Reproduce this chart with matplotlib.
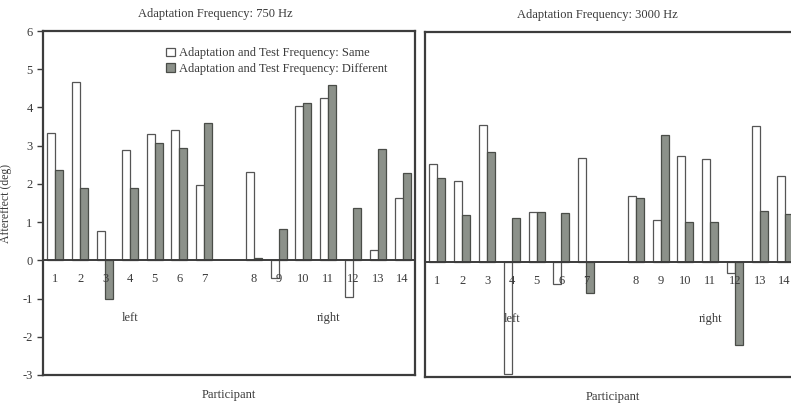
import matplotlib.pyplot as plt
import numpy as np

plt.rcParams['font.family'] = ['Liberation Serif', 'DejaVu Serif']
plt.rcParams['axes.unicode_minus'] = False

participants = [str(i) for i in range(1, 15)]
# 750 Hz panel
same_750 = [3.32, 4.67, 0.77, 2.90, 3.31, 3.40, 1.98, 2.30, -0.45, 4.03, 4.26, -0.97, 0.28, 1.64]
diff_750 = [2.36, 1.88, -1.00, 1.90, 3.08, 2.94, 3.59, 0.07, 0.82, 4.11, 4.59, 1.37, 2.91, 2.29]
# 3000 Hz panel
same_3000 = [2.56, 2.10, 3.58, -2.92, 1.30, -0.58, 2.70, 1.71, 1.10, 2.76, 2.68, -0.28, 3.54, 2.24]
diff_3000 = [2.19, 1.22, 2.87, 1.15, 1.29, 1.27, -0.80, 1.68, 3.30, 1.03, 1.04, -2.16, 1.32, 1.25]

titles = ['Adaptation Frequency: 750 Hz', 'Adaptation Frequency: 3000 Hz']
labels = ['Adaptation and Test Frequency: Same', 'Adaptation and Test Frequency: Different']

txt = '#3a3a3a'
frame = '#3c3c3c'
gray = '#8c918a'

# positions 1..7, one empty slot, then 8..14
pos = np.array(list(range(7)) + list(range(8, 15)))
w = 0.32

fig = plt.figure(figsize=(7.91, 4.08), dpi=100)
ax1 = fig.add_axes([0.0544, 0.0809, 0.4703, 0.843])
ax2 = fig.add_axes([0.5373, 0.076, 0.4703, 0.846])


def panel(ax, same, diff, title, ticks):
    b1 = ax.bar(pos - w / 2, same, w, color='white', edgecolor='#555555', linewidth=0.9, label=labels[0])
    b2 = ax.bar(pos + w / 2, diff, w, color=gray, edgecolor='#4a4d48', linewidth=0.9, label=labels[1])
    ax.axhline(0, color=frame, linewidth=1.4)
    ax.set_xlim(-0.5, 14.5)
    ax.set_ylim(-3, 6)
    ax.set_xticks([])
    for s in ax.spines.values():
        s.set_color(frame)
        s.set_linewidth(1.6)
    if ticks:
        ax.set_yticks(range(-3, 7))
        ax.tick_params(axis='y', direction='out', length=4, width=1, colors=frame,
                       labelcolor=txt, labelsize=9)
        ax.set_ylabel('Aftereffect (deg)', color=txt, fontsize=8.5)
        ax.yaxis.set_label_coords(-0.083, 0.5)
    else:
        ax.set_yticks([])
    for p, lab in zip(pos, participants):
        ax.text(p, -0.5, lab, ha='center', va='center', fontsize=9, color=txt)
    ax.text(3, -1.5, 'left', ha='center', va='center', fontsize=9, color=txt)
    ax.text(11, -1.5, 'right', ha='center', va='center', fontsize=9, color=txt)
    ax.set_title(title, fontsize=9, color=txt, pad=10)
    ax.title.set_position((0.463, 1.0))
    ax.set_xlabel('Participant', fontsize=9, color=txt)
    ax.xaxis.label.set_va('top')
    return b1, b2


b1, b2 = panel(ax1, same_750, diff_750, titles[0], True)
panel(ax2, same_3000, diff_3000, titles[1], False)
ax1.xaxis.set_label_coords(0.5, -0.04)
ax2.xaxis.set_label_coords(0.505, -0.04)

ax1.legend(handles=[b1, b2], loc='upper right', bbox_to_anchor=(0.955, 0.985), frameon=False,
           fontsize=9, labelcolor=txt, handlelength=0.7, handleheight=0.7,
           handletextpad=0.3, labelspacing=0.3)

fig.savefig('out.png', dpi=100)
